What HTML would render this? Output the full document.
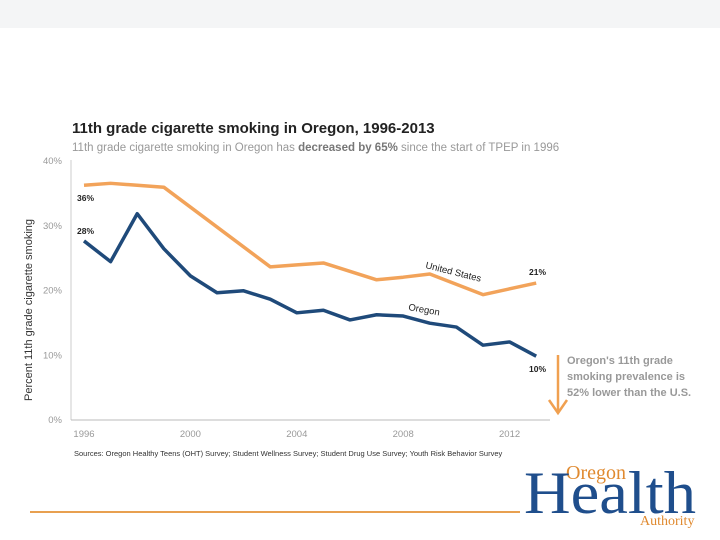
<!DOCTYPE html>
<html><head><meta charset="utf-8"><style>
body{margin:0;width:720px;height:540px;background:#fff;position:relative;overflow:hidden;font-family:"Liberation Sans",sans-serif}
.t{position:absolute;white-space:nowrap}
</style></head><body>
<div style="position:absolute;left:0;top:0;width:720px;height:28px;background:#f4f5f6"></div>
<svg width="720" height="540" style="position:absolute;left:0;top:0" id="svg">
<text x="72" y="133" font-size="15" font-weight="bold" fill="#222">11th grade cigarette smoking in Oregon, 1996-2013</text>
<text x="72" y="151" font-size="11.5" fill="#999">11th grade cigarette smoking in Oregon has <tspan font-weight="bold" fill="#777">decreased by 65%</tspan> since the start of TPEP in 1996</text>
<text transform="translate(32,310) rotate(-90)" text-anchor="middle" font-size="11" fill="#333">Percent 11th grade cigarette smoking</text>
<line x1="71" y1="160" x2="71" y2="420" stroke="#ccc"/>
<line x1="71" y1="420" x2="550" y2="420" stroke="#bbb"/>
<text x="74" y="456" font-size="7.5" fill="#333">Sources: Oregon Healthy Teens (OHT) Survey; Student Wellness Survey; Student Drug Use Survey; Youth Risk Behavior Survey</text>
<text x="529" y="275" font-size="8.5" font-weight="bold" fill="#222">21%</text>
<text x="529" y="372" font-size="8.5" font-weight="bold" fill="#222">10%</text>
<text x="77" y="201" font-size="8.5" font-weight="bold" fill="#222">36%</text>
<text x="77" y="234" font-size="8.5" font-weight="bold" fill="#222">28%</text>
<text x="425" y="268" font-size="9.5" fill="#222" transform="rotate(14 425 268)">United States</text>
<text x="408" y="310" font-size="9.5" fill="#222" transform="rotate(10 408 310)">Oregon</text>
<line x1="558" y1="355" x2="558" y2="412" stroke="#f0a050" stroke-width="2.5"/>
<polyline points="549,400 558,413 567,400" fill="none" stroke="#f0a050" stroke-width="2.5"/>
<text font-size="11" font-weight="bold" fill="#999"><tspan x="567" y="364">Oregon's 11th grade</tspan><tspan x="567" y="380">smoking prevalence is</tspan><tspan x="567" y="396">52% lower than the U.S.</tspan></text>
<line x1="30" y1="512" x2="520" y2="512" stroke="#e8a050" stroke-width="2"/>
<g>
<text x="566" y="479" font-family="Liberation Serif,serif" font-size="20" fill="#e08a30">Oregon</text>
<text x="524" y="513" font-family="Liberation Serif,serif" font-size="60" fill="#1f4e8c" textLength="172" lengthAdjust="spacingAndGlyphs">Health</text>
<text x="640" y="525" font-family="Liberation Serif,serif" font-size="14" fill="#e08a30">Authority</text>
</g>
<g id="ticks"></g><g id="lines"></g>
</svg>
<script>
const years=[1996,1997,1998,1999,2000,2001,2002,2003,2004,2005,2006,2007,2008,2009,2010,2011,2012,2013];
const oregon=[27.5,24.3,31.7,26.3,22.1,19.5,19.8,18.5,16.4,16.8,15.3,16.1,15.9,14.8,14.2,11.4,11.9,9.7];
const usYears=[1996,1997,1998,1999,2003,2004,2005,2007,2008,2009,2011,2012,2013];
const usValues=[36.1,36.4,36.1,35.8,23.5,23.8,24.1,21.5,21.9,22.4,19.2,20.1,21.0];
const yTicks=[0,10,20,30,40];
const xTicks=[1996,2000,2004,2008,2012];
const ns="http://www.w3.org/2000/svg";
const x=v=>84+(v-1996)*26.6;
const y=v=>419-v*6.475;
const tg=document.getElementById('ticks'),lg=document.getElementById('lines');
yTicks.forEach(t=>{const e=document.createElementNS(ns,'text');


e.setAttribute('x',62);e.setAttribute('y',y(t)+4);e.setAttribute('text-anchor','end');e.setAttribute('font-size','9.5');e.setAttribute('fill','#999');e.textContent=t+'%';tg.appendChild(e);});
xTicks.forEach(t=>{const e=document.createElementNS(ns,'text');


e.setAttribute('x',x(t));e.setAttribute('y',437);e.setAttribute('text-anchor','middle');e.setAttribute('font-size','9.5');e.setAttribute('fill','#999');e.textContent=t;tg.appendChild(e);});
function line(xs,vs,c,name){const p=document.createElementNS(ns,'polyline');


p.setAttribute('points',xs.map((a,i)=>x(a)+','+y(vs[i])).join(' '));p.setAttribute('fill','none');p.setAttribute('stroke',c);p.setAttribute('stroke-width','3.5');p.setAttribute('stroke-linejoin','round');lg.appendChild(p);}
line(usYears,usValues,'#f2a35a','us-line');
line(years,oregon,'#1f4a7a','oregon-line');
</script>
</body></html>
